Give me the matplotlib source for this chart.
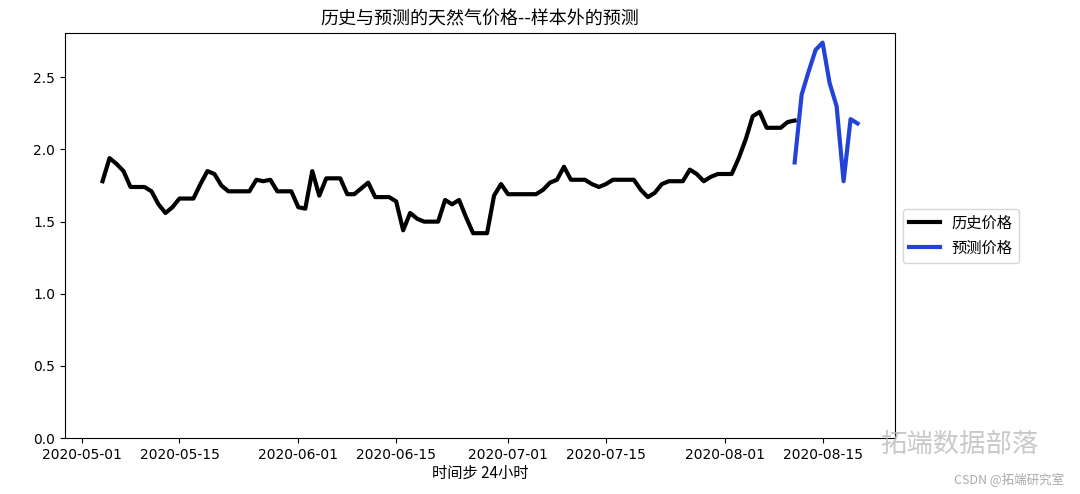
import numpy as np
import pandas as pd
import matplotlib
matplotlib.use("Agg")
import matplotlib.pyplot as plt
import matplotlib.dates as mdates

plt.rcParams['font.family'] = ['DejaVu Sans', 'Noto Sans CJK SC']

# historical daily price, 2020-05-04 .. 2020-08-11
hist_dates = pd.date_range("2020-05-04", periods=100, freq="D")
hist_price = [
    1.78, 1.94, 1.90, 1.85, 1.74, 1.74, 1.74, 1.71, 1.62, 1.56,
    1.60, 1.66, 1.66, 1.66, 1.76, 1.85, 1.83, 1.75, 1.71, 1.71,
    1.71, 1.71, 1.79, 1.78, 1.79, 1.71, 1.71, 1.71, 1.60, 1.59,
    1.85, 1.68, 1.80, 1.80, 1.80, 1.69, 1.69, 1.73, 1.77, 1.67,
    1.67, 1.67, 1.64, 1.44, 1.56, 1.52, 1.50, 1.50, 1.50, 1.65,
    1.62, 1.65, 1.53, 1.42, 1.42, 1.42, 1.68, 1.76, 1.69, 1.69,
    1.69, 1.69, 1.69, 1.72, 1.77, 1.79, 1.88, 1.79, 1.79, 1.79,
    1.76, 1.74, 1.76, 1.79, 1.79, 1.79, 1.79, 1.72, 1.67, 1.70,
    1.76, 1.78, 1.78, 1.78, 1.86, 1.83, 1.78, 1.81, 1.83, 1.83,
    1.83, 1.94, 2.07, 2.23, 2.26, 2.15, 2.15, 2.15, 2.19, 2.20,
]

# out-of-sample forecast
pred_dates = pd.date_range("2020-08-11", periods=10, freq="D")
pred_price = [1.91, 2.38, 2.54, 2.69, 2.74, 2.46, 2.30, 1.78, 2.21, 2.18]

fig = plt.figure(figsize=(10.8, 4.94), dpi=100)
ax = fig.add_axes([0.060, 0.113, 0.769, 0.820])

ax.plot(hist_dates, hist_price, color="black", lw=3, label="历史价格")
ax.plot(pred_dates, pred_price, color="#2343d8", lw=3, label="预测价格")

ax.set_ylim(bottom=0)
ax.xaxis.set_major_locator(mdates.DayLocator(bymonthday=[1, 15]))
ax.xaxis.set_major_formatter(mdates.DateFormatter("%Y-%m-%d"))
ax.tick_params(labelsize=10)

ax.set_title("历史与预测的天然气价格--样本外的预测", fontsize=13,
             family=['Noto Sans CJK SC', 'DejaVu Sans'])
ax.set_xlabel("时间步 24小时", fontsize=11, labelpad=2,
              family=['Noto Sans CJK SC', 'DejaVu Sans'])

leg = ax.legend(loc="center left", bbox_to_anchor=(1.0, 0.5), fontsize=11,
                prop={'family': ['Noto Sans CJK SC', 'DejaVu Sans'], 'size': 11})

# watermarks
fig.text(0.815, 0.085, "拓端数据部落", fontsize=19, color="#bbbbbb", alpha=0.8,
         family=['Noto Sans CJK SC'])
fig.text(0.985, 0.02, "CSDN @拓端研究室", fontsize=9, color="#aaaaaa", ha="right",
         family=['Noto Sans CJK SC', 'DejaVu Sans'])

fig.savefig("out.png", dpi=100)
